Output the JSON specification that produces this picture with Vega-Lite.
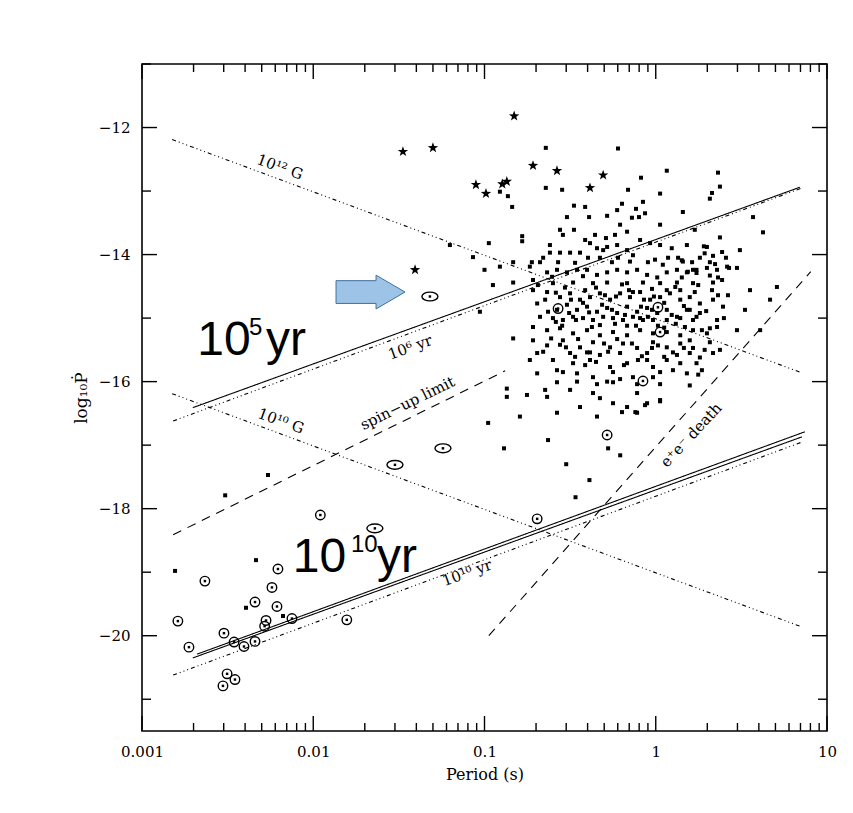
{
 "$schema": "https://vega.github.io/schema/vega-lite/v6.json",
 "width": 685, "height": 667,
 "autosize": {"type": "none"},
 "padding": {"left": 142, "top": 64, "right": 26, "bottom": 82},
 "background": "white",
 "config": {
  "view": {"stroke": "black", "strokeWidth": 1.6},
  "axis": {"domainColor": "black", "domainWidth": 1.6, "labelColor": "black", "titleColor": "black", "labelFont": "DejaVu Serif", "titleFont": "DejaVu Serif", "labelFontSize": 15, "titleFontSize": 16, "titleFontWeight": "normal", "grid": false, "labelFlush": false, "labelOverlap": false}
 },
 "datasets": {
  "xticks": [
   {"v":0.001,"k":"maj"},{"v":0.01,"k":"maj"},{"v":0.1,"k":"maj"},{"v":1,"k":"maj"},{"v":10,"k":"maj"},
   {"v":0.002,"k":"min"},{"v":0.003,"k":"min"},{"v":0.004,"k":"min"},{"v":0.005,"k":"min"},{"v":0.006,"k":"min"},{"v":0.007,"k":"min"},{"v":0.008,"k":"min"},{"v":0.009,"k":"min"},
   {"v":0.02,"k":"min"},{"v":0.03,"k":"min"},{"v":0.04,"k":"min"},{"v":0.05,"k":"min"},{"v":0.06,"k":"min"},{"v":0.07,"k":"min"},{"v":0.08,"k":"min"},{"v":0.09,"k":"min"},
   {"v":0.2,"k":"min"},{"v":0.3,"k":"min"},{"v":0.4,"k":"min"},{"v":0.5,"k":"min"},{"v":0.6,"k":"min"},{"v":0.7,"k":"min"},{"v":0.8,"k":"min"},{"v":0.9,"k":"min"},
   {"v":2,"k":"min"},{"v":3,"k":"min"},{"v":4,"k":"min"},{"v":5,"k":"min"},{"v":6,"k":"min"},{"v":7,"k":"min"},{"v":8,"k":"min"},{"v":9,"k":"min"}
  ],
  "yticks": [
   {"v":-12,"k":"maj"},{"v":-14,"k":"maj"},{"v":-16,"k":"maj"},{"v":-18,"k":"maj"},{"v":-20,"k":"maj"},
   {"v":-11,"k":"min"},{"v":-13,"k":"min"},{"v":-15,"k":"min"},{"v":-17,"k":"min"},{"v":-19,"k":"min"},{"v":-21,"k":"min"}
  ],
  "lines": [
   {"id":"B12","s":"dot","P":0.0015,"Pd":-12.19},{"id":"B12","s":"dot","P":6.94,"Pd":-15.85},
   {"id":"B10","s":"dot","P":0.0015,"Pd":-16.19},{"id":"B10","s":"dot","P":6.94,"Pd":-19.85},
   {"id":"T6","s":"dot","P":0.00152,"Pd":-16.62},{"id":"T6","s":"dot","P":7.0,"Pd":-12.96},
   {"id":"T10","s":"dot","P":0.00152,"Pd":-20.62},{"id":"T10","s":"dot","P":7.0,"Pd":-16.96},
   {"id":"S5","s":"solid","P":0.00198,"Pd":-16.41},{"id":"S5","s":"solid","P":6.94,"Pd":-12.94},
   {"id":"Sa","s":"solid","P":0.0021,"Pd":-20.29},{"id":"Sa","s":"solid","P":7.42,"Pd":-16.79},
   {"id":"Sb","s":"solid","P":0.00198,"Pd":-20.35},{"id":"Sb","s":"solid","P":7.13,"Pd":-16.87},
   {"id":"SU","s":"dash","P":0.00152,"Pd":-18.41},{"id":"SU","s":"dash","P":0.132,"Pd":-15.83},
   {"id":"DL","s":"dash","P":0.106,"Pd":-20.0},{"id":"DL","s":"dash","P":8.04,"Pd":-14.27}
  ],
  "pts": [
   {"P":0.228,"Pd":-12.32,"t":"s"},{"P":0.602,"Pd":-12.33,"t":"s"},{"P":1.16,"Pd":-12.68,"t":"s"},{"P":0.82,"Pd":-12.79,"t":"s"},{"P":0.228,"Pd":-12.95,"t":"s"},{"P":0.284,"Pd":-12.98,"t":"s"},{"P":0.689,"Pd":-12.98,"t":"s"},{"P":1.06,"Pd":-13.04,"t":"s"},{"P":0.123,"Pd":-13.01,"t":"s"},{"P":0.137,"Pd":-13.08,"t":"s"},{"P":0.145,"Pd":-13.25,"t":"s"},{"P":0.333,"Pd":-13.23,"t":"s"},{"P":0.387,"Pd":-13.25,"t":"s"},{"P":0.408,"Pd":-13.41,"t":"s"},{"P":0.303,"Pd":-13.41,"t":"s"},{"P":0.52,"Pd":-13.39,"t":"s"},{"P":0.635,"Pd":-13.2,"t":"s"},{"P":0.595,"Pd":-13.3,"t":"s"},{"P":0.767,"Pd":-13.28,"t":"s"},{"P":0.866,"Pd":-13.35,"t":"s"},{"P":0.798,"Pd":-13.41,"t":"s"},{"P":0.726,"Pd":-13.42,"t":"s"},{"P":0.842,"Pd":-13.17,"t":"s"},{"P":1.44,"Pd":-13.33,"t":"s"},{"P":0.166,"Pd":-13.71,"t":"s"},{"P":0.166,"Pd":-13.79,"t":"s"},{"P":0.106,"Pd":-13.82,"t":"s"},{"P":0.0628,"Pd":-13.85,"t":"s"},{"P":0.0857,"Pd":-14.04,"t":"s"},
   {"P":2.31,"Pd":-12.71,"t":"s"},{"P":2.37,"Pd":-12.93,"t":"s"},{"P":2.13,"Pd":-13.03,"t":"s"},{"P":2.07,"Pd":-13.12,"t":"s"},{"P":3.7,"Pd":-13.41,"t":"s"},{"P":4.23,"Pd":-13.65,"t":"s"},{"P":2.37,"Pd":-13.73,"t":"s"},{"P":1.91,"Pd":-13.87,"t":"s"},{"P":1.93,"Pd":-13.98,"t":"s"},{"P":2.44,"Pd":-13.96,"t":"s"},{"P":2.16,"Pd":-14.02,"t":"s"},{"P":1.42,"Pd":-14.09,"t":"s"},{"P":2.68,"Pd":-14.21,"t":"s"},{"P":2.22,"Pd":-14.15,"t":"s"},{"P":1.65,"Pd":-14.24,"t":"s"},{"P":1.54,"Pd":-14.27,"t":"s"},{"P":1.73,"Pd":-14.29,"t":"s"},{"P":2.07,"Pd":-14.33,"t":"s"},{"P":2.31,"Pd":-14.36,"t":"s"},{"P":1.42,"Pd":-14.36,"t":"s"},
   {"P":0.276,"Pd":-13.61,"t":"s"},{"P":0.333,"Pd":-13.61,"t":"s"},{"P":0.442,"Pd":-13.69,"t":"s"},{"P":0.512,"Pd":-13.74,"t":"s"},{"P":0.578,"Pd":-13.69,"t":"s"},{"P":0.68,"Pd":-13.64,"t":"s"},{"P":0.241,"Pd":-13.85,"t":"s"},{"P":0.276,"Pd":-13.97,"t":"s"},{"P":0.316,"Pd":-13.97,"t":"s"},{"P":0.361,"Pd":-13.97,"t":"s"},{"P":0.413,"Pd":-13.82,"t":"s"},{"P":0.454,"Pd":-13.9,"t":"s"},{"P":0.52,"Pd":-13.88,"t":"s"},{"P":0.595,"Pd":-13.85,"t":"s"},{"P":0.68,"Pd":-13.93,"t":"s"},{"P":0.81,"Pd":-13.77,"t":"s"},{"P":0.927,"Pd":-13.82,"t":"s"},{"P":1.06,"Pd":-13.85,"t":"s"},{"P":1.24,"Pd":-13.9,"t":"s"},{"P":1.52,"Pd":-13.85,"t":"s"},{"P":1.99,"Pd":-13.88,"t":"s"},{"P":0.241,"Pd":-13.97,"t":"s"},{"P":0.189,"Pd":-14.12,"t":"s"},{"P":0.211,"Pd":-14.12,"t":"s"},
   {"P":0.123,"Pd":-14.19,"t":"s"},{"P":0.147,"Pd":-14.12,"t":"s"},{"P":0.184,"Pd":-14.19,"t":"s"},{"P":0.232,"Pd":-14.28,"t":"s"},{"P":0.265,"Pd":-14.24,"t":"s"},{"P":0.303,"Pd":-14.28,"t":"s"},{"P":0.347,"Pd":-14.24,"t":"s"},{"P":0.397,"Pd":-14.24,"t":"s"},{"P":0.454,"Pd":-14.32,"t":"s"},{"P":0.52,"Pd":-14.28,"t":"s"},{"P":0.595,"Pd":-14.24,"t":"s"},{"P":0.68,"Pd":-14.28,"t":"s"},{"P":0.778,"Pd":-14.24,"t":"s"},{"P":0.89,"Pd":-14.32,"t":"s"},{"P":1.02,"Pd":-14.36,"t":"s"},{"P":1.16,"Pd":-14.28,"t":"s"},{"P":1.33,"Pd":-14.24,"t":"s"},{"P":1.52,"Pd":-14.28,"t":"s"},{"P":1.73,"Pd":-14.24,"t":"s"},{"P":1.99,"Pd":-14.21,"t":"s"},{"P":2.28,"Pd":-14.24,"t":"s"},{"P":2.61,"Pd":-14.19,"t":"s"},{"P":2.98,"Pd":-14.21,"t":"s"},{"P":0.147,"Pd":-14.44,"t":"s"},{"P":0.192,"Pd":-14.4,"t":"s"},{"P":0.251,"Pd":-14.45,"t":"s"},{"P":0.329,"Pd":-14.44,"t":"s"},{"P":0.43,"Pd":-14.45,"t":"s"},{"P":0.52,"Pd":-14.44,"t":"s"},{"P":0.68,"Pd":-14.45,"t":"s"},{"P":0.842,"Pd":-14.44,"t":"s"},{"P":1.06,"Pd":-14.45,"t":"s"},{"P":1.33,"Pd":-14.44,"t":"s"},{"P":1.65,"Pd":-14.45,"t":"s"},{"P":2.16,"Pd":-14.44,"t":"s"},{"P":2.44,"Pd":-14.4,"t":"s"},{"P":5.1,"Pd":-14.51,"t":"s"},
   {"P":0.112,"Pd":-14.48,"t":"s"},{"P":0.192,"Pd":-14.56,"t":"s"},{"P":0.232,"Pd":-14.59,"t":"s"},{"P":0.276,"Pd":-14.67,"t":"s"},{"P":0.316,"Pd":-14.61,"t":"s"},{"P":0.361,"Pd":-14.71,"t":"s"},{"P":0.413,"Pd":-14.67,"t":"s"},{"P":0.472,"Pd":-14.61,"t":"s"},{"P":0.541,"Pd":-14.71,"t":"s"},{"P":0.619,"Pd":-14.61,"t":"s"},{"P":0.707,"Pd":-14.67,"t":"s"},{"P":0.81,"Pd":-14.59,"t":"s"},{"P":0.927,"Pd":-14.71,"t":"s"},{"P":1.06,"Pd":-14.67,"t":"s"},{"P":1.21,"Pd":-14.61,"t":"s"},{"P":1.39,"Pd":-14.71,"t":"s"},{"P":1.58,"Pd":-14.67,"t":"s"},{"P":1.81,"Pd":-14.77,"t":"s"},{"P":2.16,"Pd":-14.71,"t":"s"},{"P":2.47,"Pd":-14.82,"t":"s"},{"P":0.203,"Pd":-14.77,"t":"s"},{"P":0.265,"Pd":-14.87,"t":"s"},{"P":0.303,"Pd":-14.79,"t":"s"},{"P":0.347,"Pd":-14.87,"t":"s"},{"P":0.397,"Pd":-14.82,"t":"s"},{"P":0.454,"Pd":-14.9,"t":"s"},{"P":0.52,"Pd":-14.84,"t":"s"},{"P":0.595,"Pd":-14.92,"t":"s"},{"P":0.68,"Pd":-14.82,"t":"s"},{"P":0.778,"Pd":-14.9,"t":"s"},{"P":0.89,"Pd":-14.84,"t":"s"},{"P":1.02,"Pd":-14.92,"t":"s"},{"P":1.16,"Pd":-14.87,"t":"s"},{"P":1.33,"Pd":-14.98,"t":"s"},{"P":1.52,"Pd":-14.87,"t":"s"},{"P":1.73,"Pd":-14.98,"t":"s"},{"P":0.211,"Pd":-14.98,"t":"s"},{"P":0.251,"Pd":-15.0,"t":"s"},{"P":0.287,"Pd":-15.03,"t":"s"},{"P":0.329,"Pd":-14.98,"t":"s"},{"P":0.376,"Pd":-15.0,"t":"s"},{"P":0.43,"Pd":-15.03,"t":"s"},{"P":0.563,"Pd":-15.0,"t":"s"},{"P":0.644,"Pd":-15.03,"t":"s"},{"P":0.736,"Pd":-14.98,"t":"s"},{"P":0.842,"Pd":-15.03,"t":"s"},{"P":0.964,"Pd":-15.03,"t":"s"},{"P":1.16,"Pd":-15.03,"t":"s"},{"P":1.39,"Pd":-15.0,"t":"s"},{"P":1.65,"Pd":-15.03,"t":"s"},{"P":2.28,"Pd":-15.03,"t":"s"},
   {"P":0.192,"Pd":-15.14,"t":"s"},{"P":0.232,"Pd":-15.19,"t":"s"},{"P":0.276,"Pd":-15.16,"t":"s"},{"P":0.329,"Pd":-15.24,"t":"s"},{"P":0.397,"Pd":-15.19,"t":"s"},{"P":0.472,"Pd":-15.27,"t":"s"},{"P":0.563,"Pd":-15.22,"t":"s"},{"P":0.68,"Pd":-15.27,"t":"s"},{"P":0.81,"Pd":-15.19,"t":"s"},{"P":0.964,"Pd":-15.24,"t":"s"},{"P":1.16,"Pd":-15.22,"t":"s"},{"P":1.39,"Pd":-15.27,"t":"s"},{"P":1.65,"Pd":-15.19,"t":"s"},{"P":1.99,"Pd":-15.24,"t":"s"},{"P":2.28,"Pd":-15.14,"t":"s"},{"P":2.98,"Pd":-15.19,"t":"s"},{"P":0.147,"Pd":-15.32,"t":"s"},{"P":0.192,"Pd":-15.35,"t":"s"},{"P":0.232,"Pd":-15.43,"t":"s"},{"P":0.287,"Pd":-15.35,"t":"s"},{"P":0.361,"Pd":-15.46,"t":"s"},{"P":0.43,"Pd":-15.38,"t":"s"},{"P":0.541,"Pd":-15.46,"t":"s"},{"P":0.644,"Pd":-15.4,"t":"s"},{"P":0.778,"Pd":-15.47,"t":"s"},{"P":0.964,"Pd":-15.38,"t":"s"},{"P":1.16,"Pd":-15.46,"t":"s"},{"P":1.39,"Pd":-15.4,"t":"s"},{"P":1.65,"Pd":-15.47,"t":"s"},{"P":2.07,"Pd":-15.38,"t":"s"},{"P":2.37,"Pd":-15.5,"t":"s"},{"P":0.316,"Pd":-15.55,"t":"s"},{"P":0.397,"Pd":-15.54,"t":"s"},{"P":0.472,"Pd":-15.58,"t":"s"},{"P":0.619,"Pd":-15.55,"t":"s"},{"P":0.89,"Pd":-15.55,"t":"s"},{"P":1.26,"Pd":-15.54,"t":"s"},{"P":1.58,"Pd":-15.55,"t":"s"},{"P":2.16,"Pd":-15.55,"t":"s"},
   {"P":0.203,"Pd":-15.55,"t":"s"},{"P":0.251,"Pd":-15.66,"t":"s"},{"P":0.329,"Pd":-15.71,"t":"s"},{"P":0.413,"Pd":-15.66,"t":"s"},{"P":0.541,"Pd":-15.77,"t":"s"},{"P":0.68,"Pd":-15.71,"t":"s"},{"P":0.89,"Pd":-15.66,"t":"s"},{"P":0.964,"Pd":-15.77,"t":"s"},{"P":1.16,"Pd":-15.66,"t":"s"},{"P":1.39,"Pd":-15.71,"t":"s"},{"P":1.81,"Pd":-15.62,"t":"s"},{"P":0.203,"Pd":-15.87,"t":"s"},{"P":0.265,"Pd":-15.82,"t":"s"},{"P":0.347,"Pd":-15.87,"t":"s"},{"P":0.43,"Pd":-15.93,"t":"s"},{"P":0.563,"Pd":-15.85,"t":"s"},{"P":0.736,"Pd":-15.93,"t":"s"},{"P":0.964,"Pd":-15.93,"t":"s"},{"P":1.26,"Pd":-15.82,"t":"s"},{"P":1.52,"Pd":-15.87,"t":"s"},{"P":1.86,"Pd":-15.82,"t":"s"},{"P":1.73,"Pd":-15.71,"t":"s"},{"P":0.265,"Pd":-16.01,"t":"s"},{"P":0.347,"Pd":-16.0,"t":"s"},{"P":0.454,"Pd":-16.04,"t":"s"},{"P":0.563,"Pd":-16.01,"t":"s"},{"P":0.778,"Pd":-16.04,"t":"s"},
   {"P":0.316,"Pd":-16.13,"t":"s"},{"P":0.43,"Pd":-16.18,"t":"s"},{"P":0.563,"Pd":-16.34,"t":"s"},{"P":0.68,"Pd":-16.4,"t":"s"},{"P":0.89,"Pd":-16.34,"t":"s"},{"P":1.06,"Pd":-16.29,"t":"s"},{"P":0.361,"Pd":-16.4,"t":"s"},{"P":0.232,"Pd":-16.24,"t":"s"},{"P":0.265,"Pd":-16.49,"t":"s"},{"P":0.454,"Pd":-16.55,"t":"s"},{"P":0.778,"Pd":-16.49,"t":"s"},{"P":0.135,"Pd":-16.11,"t":"s"},{"P":0.135,"Pd":-16.24,"t":"s"},{"P":0.177,"Pd":-16.21,"t":"s"},{"P":0.161,"Pd":-16.55,"t":"s"},
   {"P":0.52,"Pd":-16.0,"t":"s"},{"P":0.778,"Pd":-16.18,"t":"s"},{"P":1.06,"Pd":-16.04,"t":"s"},{"P":1.06,"Pd":-16.31,"t":"s"},{"P":0.866,"Pd":-16.37,"t":"s"},{"P":0.76,"Pd":-16.48,"t":"s"},{"P":0.635,"Pd":-16.48,"t":"s"},{"P":0.527,"Pd":-17.05,"t":"s"},
   {"P":0.094,"Pd":-14.9,"t":"s"},{"P":0.1,"Pd":-14.24,"t":"s"},{"P":0.105,"Pd":-16.65,"t":"s"},{"P":0.235,"Pd":-16.92,"t":"s"},{"P":0.3,"Pd":-17.3,"t":"s"},{"P":0.34,"Pd":-17.82,"t":"s"},{"P":0.41,"Pd":-17.55,"t":"s"},{"P":0.62,"Pd":-17.16,"t":"s"},{"P":0.13,"Pd":-17.05,"t":"s"},
   {"P":0.248,"Pd":-14.35,"t":"s"},{"P":0.295,"Pd":-14.52,"t":"s"},{"P":0.376,"Pd":-14.34,"t":"s"},{"P":0.448,"Pd":-14.52,"t":"s"},{"P":0.505,"Pd":-14.64,"t":"s"},{"P":0.635,"Pd":-14.47,"t":"s"},{"P":0.736,"Pd":-14.59,"t":"s"},{"P":0.854,"Pd":-14.71,"t":"s"},{"P":0.951,"Pd":-14.54,"t":"s"},{"P":1.12,"Pd":-14.76,"t":"s"},{"P":1.3,"Pd":-14.51,"t":"s"},{"P":1.46,"Pd":-14.81,"t":"s"},{"P":1.69,"Pd":-14.59,"t":"s"},{"P":1.97,"Pd":-14.89,"t":"s"},{"P":2.31,"Pd":-14.64,"t":"s"},{"P":0.226,"Pd":-14.71,"t":"s"},{"P":0.261,"Pd":-15.06,"t":"s"},{"P":0.312,"Pd":-14.92,"t":"s"},{"P":0.376,"Pd":-14.76,"t":"s"},{"P":0.424,"Pd":-15.14,"t":"s"},{"P":0.493,"Pd":-14.98,"t":"s"},{"P":0.578,"Pd":-15.09,"t":"s"},{"P":0.661,"Pd":-14.95,"t":"s"},{"P":0.767,"Pd":-15.12,"t":"s"},{"P":0.9,"Pd":-14.98,"t":"s"},{"P":1.03,"Pd":-15.12,"t":"s"},{"P":1.24,"Pd":-14.95,"t":"s"},{"P":1.48,"Pd":-15.14,"t":"s"},{"P":1.81,"Pd":-14.92,"t":"s"},{"P":2.07,"Pd":-15.16,"t":"s"},{"P":0.245,"Pd":-15.32,"t":"s"},{"P":0.299,"Pd":-15.46,"t":"s"},{"P":0.352,"Pd":-15.33,"t":"s"},{"P":0.413,"Pd":-15.54,"t":"s"},{"P":0.499,"Pd":-15.4,"t":"s"},{"P":0.595,"Pd":-15.33,"t":"s"},{"P":0.726,"Pd":-15.4,"t":"s"},{"P":0.83,"Pd":-15.6,"t":"s"},{"P":1.03,"Pd":-15.43,"t":"s"},{"P":1.33,"Pd":-15.58,"t":"s"},{"P":1.58,"Pd":-15.35,"t":"s"},{"P":1.93,"Pd":-15.5,"t":"s"},{"P":0.287,"Pd":-13.69,"t":"s"},{"P":0.387,"Pd":-13.77,"t":"s"},{"P":0.472,"Pd":-14.05,"t":"s"},{"P":0.555,"Pd":-14.12,"t":"s"},{"P":0.707,"Pd":-14.11,"t":"s"},{"P":0.99,"Pd":-14.08,"t":"s"},{"P":1.18,"Pd":-14.05,"t":"s"},{"P":1.44,"Pd":-14.11,"t":"s"},{"P":1.81,"Pd":-14.05,"t":"s"},{"P":0.619,"Pd":-13.53,"t":"s"},{"P":1.06,"Pd":-13.53,"t":"s"},{"P":1.69,"Pd":-13.61,"t":"s"},{"P":3.1,"Pd":-13.93,"t":"s"},{"P":3.55,"Pd":-14.56,"t":"s"},{"P":3.32,"Pd":-14.87,"t":"s"},{"P":4.07,"Pd":-15.19,"t":"s"},{"P":4.65,"Pd":-14.71,"t":"s"},{"P":0.287,"Pd":-15.85,"t":"s"},{"P":0.387,"Pd":-15.74,"t":"s"},{"P":0.619,"Pd":-15.96,"t":"s"},{"P":1.06,"Pd":-15.85,"t":"s"},{"P":1.58,"Pd":-16.06,"t":"s"},{"P":0.226,"Pd":-16.13,"t":"s"},{"P":0.472,"Pd":-16.26,"t":"s"},{"P":0.184,"Pd":-15.66,"t":"s"},
   {"P":0.22,"Pd":-14.05,"t":"s"},{"P":0.269,"Pd":-14.12,"t":"s"},{"P":0.338,"Pd":-14.13,"t":"s"},{"P":0.402,"Pd":-14.05,"t":"s"},{"P":0.493,"Pd":-13.93,"t":"s"},{"P":0.602,"Pd":-14.05,"t":"s"},{"P":0.736,"Pd":-14.01,"t":"s"},{"P":0.9,"Pd":-14.12,"t":"s"},{"P":1.1,"Pd":-14.16,"t":"s"},{"P":1.35,"Pd":-14.05,"t":"s"},{"P":1.63,"Pd":-14.12,"t":"s"},{"P":2.07,"Pd":-14.12,"t":"s"},{"P":2.57,"Pd":-14.05,"t":"s"},
   {"P":0.205,"Pd":-14.48,"t":"s"},{"P":0.261,"Pd":-14.6,"t":"s"},{"P":0.32,"Pd":-14.71,"t":"s"},{"P":0.387,"Pd":-14.56,"t":"s"},{"P":0.486,"Pd":-14.79,"t":"s"},{"P":0.586,"Pd":-14.66,"t":"s"},{"P":0.698,"Pd":-14.56,"t":"s"},{"P":0.82,"Pd":-14.82,"t":"s"},{"P":0.976,"Pd":-14.66,"t":"s"},{"P":1.16,"Pd":-14.56,"t":"s"},{"P":1.39,"Pd":-14.56,"t":"s"},{"P":1.77,"Pd":-14.48,"t":"s"},{"P":2.13,"Pd":-14.56,"t":"s"},{"P":2.64,"Pd":-14.64,"t":"s"},
   {"P":0.235,"Pd":-14.9,"t":"s"},{"P":0.284,"Pd":-15.12,"t":"s"},{"P":0.342,"Pd":-15.03,"t":"s"},{"P":0.408,"Pd":-14.91,"t":"s"},{"P":0.472,"Pd":-15.11,"t":"s"},{"P":0.555,"Pd":-14.87,"t":"s"},{"P":0.68,"Pd":-15.12,"t":"s"},{"P":0.81,"Pd":-15.0,"t":"s"},{"P":0.951,"Pd":-14.87,"t":"s"},{"P":1.12,"Pd":-15.15,"t":"s"},{"P":1.31,"Pd":-15.09,"t":"s"},{"P":1.58,"Pd":-14.87,"t":"s"},{"P":1.86,"Pd":-15.19,"t":"s"},{"P":2.5,"Pd":-15.0,"t":"s"},
   {"P":0.22,"Pd":-15.53,"t":"s"},{"P":0.276,"Pd":-15.42,"t":"s"},{"P":0.338,"Pd":-15.61,"t":"s"},{"P":0.448,"Pd":-15.69,"t":"s"},{"P":0.527,"Pd":-15.53,"t":"s"},{"P":0.652,"Pd":-15.74,"t":"s"},{"P":0.787,"Pd":-15.66,"t":"s"},{"P":0.951,"Pd":-15.47,"t":"s"},{"P":1.12,"Pd":-15.61,"t":"s"},{"P":1.46,"Pd":-15.47,"t":"s"},{"P":1.77,"Pd":-15.89,"t":"s"},
   {"P":0.00156,"Pd":-18.98,"t":"s"},{"P":0.00306,"Pd":-17.79,"t":"s"},{"P":0.00544,"Pd":-17.47,"t":"s"},{"P":0.00463,"Pd":-18.81,"t":"s"},{"P":0.00405,"Pd":-19.56,"t":"s"},{"P":0.00666,"Pd":-19.69,"t":"s"},
   {"P":0.0334,"Pd":-12.38,"t":"star"},{"P":0.05,"Pd":-12.32,"t":"star"},{"P":0.149,"Pd":-11.82,"t":"star"},{"P":0.0891,"Pd":-12.9,"t":"star"},{"P":0.102,"Pd":-13.04,"t":"star"},{"P":0.127,"Pd":-12.89,"t":"star"},{"P":0.135,"Pd":-12.85,"t":"star"},{"P":0.192,"Pd":-12.6,"t":"star"},{"P":0.265,"Pd":-12.68,"t":"star"},{"P":0.493,"Pd":-12.75,"t":"star"},{"P":0.413,"Pd":-12.95,"t":"star"},{"P":0.0393,"Pd":-14.24,"t":"star"},
   {"P":0.269,"Pd":-14.85,"t":"c"},{"P":1.03,"Pd":-14.83,"t":"c"},{"P":1.06,"Pd":-15.22,"t":"c"},{"P":0.842,"Pd":-15.99,"t":"c"},{"P":0.52,"Pd":-16.84,"t":"c"},{"P":0.203,"Pd":-18.16,"t":"c"},{"P":0.011,"Pd":-18.1,"t":"c"},{"P":0.00622,"Pd":-18.95,"t":"c"},{"P":0.00233,"Pd":-19.14,"t":"c"},{"P":0.00574,"Pd":-19.24,"t":"c"},{"P":0.00457,"Pd":-19.47,"t":"c"},{"P":0.00614,"Pd":-19.54,"t":"c"},{"P":0.00751,"Pd":-19.73,"t":"c"},{"P":0.0053,"Pd":-19.76,"t":"c"},{"P":0.0052,"Pd":-19.85,"t":"c"},{"P":0.00162,"Pd":-19.77,"t":"c"},{"P":0.00301,"Pd":-19.96,"t":"c"},{"P":0.00345,"Pd":-20.1,"t":"c"},{"P":0.00394,"Pd":-20.17,"t":"c"},{"P":0.00457,"Pd":-20.09,"t":"c"},{"P":0.00188,"Pd":-20.18,"t":"c"},{"P":0.0157,"Pd":-19.75,"t":"c"},{"P":0.00314,"Pd":-20.6,"t":"c"},{"P":0.00349,"Pd":-20.69,"t":"c"},{"P":0.00297,"Pd":-20.79,"t":"c"},
   {"P":0.048,"Pd":-14.66,"t":"e"},{"P":0.0572,"Pd":-17.05,"t":"e"},{"P":0.03,"Pd":-17.31,"t":"e"},{"P":0.0229,"Pd":-18.31,"t":"e"}
  ],
  "lab": [
   {"g":"p20","text":"10¹² G","P":0.00639,"Pd":-12.62},
   {"g":"p20","text":"10¹⁰ G","P":0.00648,"Pd":-16.62},
   {"g":"m20","text":"10⁶ yr","P":0.0368,"Pd":-15.46},
   {"g":"m20","text":"10¹⁰ yr","P":0.0791,"Pd":-19.01},
   {"g":"m26","text":"spin−up limit","P":0.0355,"Pd":-16.34},
   {"g":"m47","text":"e⁺e⁻ death","P":1.61,"Pd":-16.84}
  ],
  "big": [
   {"text":"10","P":0.0021,"Pd":-15.58},{"text":"yr","P":0.0053,"Pd":-15.58},
   {"text":"10","P":0.0076,"Pd":-18.99},{"text":"yr","P":0.0236,"Pd":-18.99}
  ],
  "sup": [
   {"text":"5","P":0.00422,"Pd":-15.26},{"text":"10","P":0.0166,"Pd":-18.68}
  ],
  "arrow": [{"P":0.0216,"Pd":-14.59}]
 },
 "layer": [
  {
   "data": {"name": "lines"},
   "mark": {"type": "line", "color": "black", "strokeWidth": 1.1, "clip": true},
   "encoding": {
    "x": {"field": "P", "type": "quantitative", "scale": {"type": "log", "domain": [0.001, 10], "nice": false},
          "axis": {"orient": "bottom", "values": [0.001, 0.01, 0.1, 1, 10], "format": "~g", "ticks": false, "domain": false, "labelPadding": 13, "title": "Period (s)", "titlePadding": 7}},
    "y": {"field": "Pd", "type": "quantitative", "scale": {"domain": [-21.5, -11], "nice": false, "zero": false},
          "axis": {"orient": "left", "values": [-12, -14, -16, -18, -20], "format": "d", "ticks": false, "domain": false, "labelPadding": 12, "title": "log₁₀Ṗ", "titlePadding": 8, "titleFontSize": 17}},
    "detail": {"field": "id"},
    "strokeDash": {"field": "s", "type": "nominal", "scale": {"domain": ["solid", "dot", "dash"], "range": [[1, 0], [4, 3, 1, 3, 1, 3, 1, 3], [9, 7]]}, "legend": null}
   }
  },
  {
   "data": {"name": "xticks"}, "transform": [{"filter": "datum.k == 'maj'"}],
   "mark": {"type": "rule", "color": "black", "strokeWidth": 1.4},
   "encoding": {"x": {"field": "v", "type": "quantitative"}, "y": {"datum": -21.5, "type": "quantitative"}, "y2": {"datum": -21.264}}
  },
  {
   "data": {"name": "xticks"}, "transform": [{"filter": "datum.k == 'min'"}],
   "mark": {"type": "rule", "color": "black", "strokeWidth": 1.4},
   "encoding": {"x": {"field": "v", "type": "quantitative"}, "y": {"datum": -21.5, "type": "quantitative"}, "y2": {"datum": -21.374}}
  },
  {
   "data": {"name": "xticks"}, "transform": [{"filter": "datum.k == 'maj'"}],
   "mark": {"type": "rule", "color": "black", "strokeWidth": 1.4},
   "encoding": {"x": {"field": "v", "type": "quantitative"}, "y": {"datum": -11, "type": "quantitative"}, "y2": {"datum": -11.236}}
  },
  {
   "data": {"name": "xticks"}, "transform": [{"filter": "datum.k == 'min'"}],
   "mark": {"type": "rule", "color": "black", "strokeWidth": 1.4},
   "encoding": {"x": {"field": "v", "type": "quantitative"}, "y": {"datum": -11, "type": "quantitative"}, "y2": {"datum": -11.126}}
  },
  {
   "data": {"name": "yticks"}, "transform": [{"filter": "datum.k == 'maj'"}],
   "mark": {"type": "rule", "color": "black", "strokeWidth": 1.4},
   "encoding": {"y": {"field": "v", "type": "quantitative"}, "x": {"datum": 0.001, "type": "quantitative"}, "x2": {"datum": 0.0012236}}
  },
  {
   "data": {"name": "yticks"}, "transform": [{"filter": "datum.k == 'min'"}],
   "mark": {"type": "rule", "color": "black", "strokeWidth": 1.4},
   "encoding": {"y": {"field": "v", "type": "quantitative"}, "x": {"datum": 0.001, "type": "quantitative"}, "x2": {"datum": 0.0011287}}
  },
  {
   "data": {"name": "yticks"}, "transform": [{"filter": "datum.k == 'maj'"}],
   "mark": {"type": "rule", "color": "black", "strokeWidth": 1.4},
   "encoding": {"y": {"field": "v", "type": "quantitative"}, "x": {"datum": 10, "type": "quantitative"}, "x2": {"datum": 8.1727}}
  },
  {
   "data": {"name": "yticks"}, "transform": [{"filter": "datum.k == 'min'"}],
   "mark": {"type": "rule", "color": "black", "strokeWidth": 1.4},
   "encoding": {"y": {"field": "v", "type": "quantitative"}, "x": {"datum": 10, "type": "quantitative"}, "x2": {"datum": 8.86}}
  },
  {
   "data": {"name": "pts"},
   "transform": [{"filter": "datum.t == 's'"}],
   "mark": {"type": "point", "shape": "square", "filled": true, "color": "black", "size": 16, "opacity": 1},
   "encoding": {"x": {"field": "P", "type": "quantitative"}, "y": {"field": "Pd", "type": "quantitative"}}
  },
  {
   "data": {"name": "pts"},
   "transform": [{"filter": "datum.t == 'star'"}],
   "mark": {"type": "point", "shape": "M0,-1L0.235,-0.324L0.951,-0.309L0.38,0.124L0.588,0.809L0,0.4L-0.588,0.809L-0.38,0.124L-0.951,-0.309L-0.235,-0.324Z", "filled": true, "color": "black", "size": 120, "opacity": 1},
   "encoding": {"x": {"field": "P", "type": "quantitative"}, "y": {"field": "Pd", "type": "quantitative"}}
  },
  {
   "data": {"name": "pts"},
   "transform": [{"filter": "datum.t == 'c'"}],
   "mark": {"type": "point", "shape": "circle", "filled": false, "color": "black", "strokeWidth": 1.4, "size": 90, "opacity": 1},
   "encoding": {"x": {"field": "P", "type": "quantitative"}, "y": {"field": "Pd", "type": "quantitative"}}
  },
  {
   "data": {"name": "pts"},
   "transform": [{"filter": "datum.t == 'e'"}],
   "mark": {"type": "point", "shape": "M-1,0A1,0.55,0,1,0,1,0A1,0.55,0,1,0,-1,0Z", "filled": false, "color": "black", "strokeWidth": 1.4, "size": 256, "opacity": 1},
   "encoding": {"x": {"field": "P", "type": "quantitative"}, "y": {"field": "Pd", "type": "quantitative"}}
  },
  {
   "data": {"name": "pts"},
   "transform": [{"filter": "datum.t == 'c' || datum.t == 'e'"}],
   "mark": {"type": "point", "shape": "square", "filled": true, "color": "black", "size": 6, "opacity": 1},
   "encoding": {"x": {"field": "P", "type": "quantitative"}, "y": {"field": "Pd", "type": "quantitative"}}
  },
  {
   "data": {"name": "lab"},
   "transform": [{"filter": "datum.g == 'p20'"}],
   "mark": {"type": "text", "font": "DejaVu Serif", "fontSize": 15, "angle": 20, "align": "center", "baseline": "middle", "color": "black"},
   "encoding": {"x": {"field": "P", "type": "quantitative"}, "y": {"field": "Pd", "type": "quantitative"}, "text": {"field": "text"}}
  },
  {
   "data": {"name": "lab"},
   "transform": [{"filter": "datum.g == 'm20'"}],
   "mark": {"type": "text", "font": "DejaVu Serif", "fontSize": 15, "angle": -20, "align": "center", "baseline": "middle", "color": "black"},
   "encoding": {"x": {"field": "P", "type": "quantitative"}, "y": {"field": "Pd", "type": "quantitative"}, "text": {"field": "text"}}
  },
  {
   "data": {"name": "lab"},
   "transform": [{"filter": "datum.g == 'm26'"}],
   "mark": {"type": "text", "font": "DejaVu Serif", "fontSize": 15, "angle": -26, "align": "center", "baseline": "middle", "color": "black"},
   "encoding": {"x": {"field": "P", "type": "quantitative"}, "y": {"field": "Pd", "type": "quantitative"}, "text": {"field": "text"}}
  },
  {
   "data": {"name": "lab"},
   "transform": [{"filter": "datum.g == 'm47'"}],
   "mark": {"type": "text", "font": "DejaVu Serif", "fontSize": 15, "angle": -47, "align": "center", "baseline": "middle", "color": "black"},
   "encoding": {"x": {"field": "P", "type": "quantitative"}, "y": {"field": "Pd", "type": "quantitative"}, "text": {"field": "text"}}
  },
  {
   "data": {"name": "big"},
   "mark": {"type": "text", "font": "Liberation Sans", "fontSize": 48, "align": "left", "baseline": "alphabetic", "color": "black"},
   "encoding": {"x": {"field": "P", "type": "quantitative"}, "y": {"field": "Pd", "type": "quantitative"}, "text": {"field": "text"}}
  },
  {
   "data": {"name": "sup"},
   "mark": {"type": "text", "font": "Liberation Sans", "fontSize": 24, "align": "left", "baseline": "alphabetic", "color": "black"},
   "encoding": {"x": {"field": "P", "type": "quantitative"}, "y": {"field": "Pd", "type": "quantitative"}, "text": {"field": "text"}}
  },
  {
   "data": {"name": "arrow"},
   "mark": {"type": "point", "shape": "M-1,-0.33L0.16,-0.33L0.16,-0.49L1,0L0.16,0.49L0.16,0.33L-1,0.33Z", "filled": true, "fill": "#9DC3E6", "stroke": "#41719C", "strokeWidth": 1, "size": 4761, "opacity": 1},
   "encoding": {"x": {"field": "P", "type": "quantitative"}, "y": {"field": "Pd", "type": "quantitative"}}
  }
 ]
}
